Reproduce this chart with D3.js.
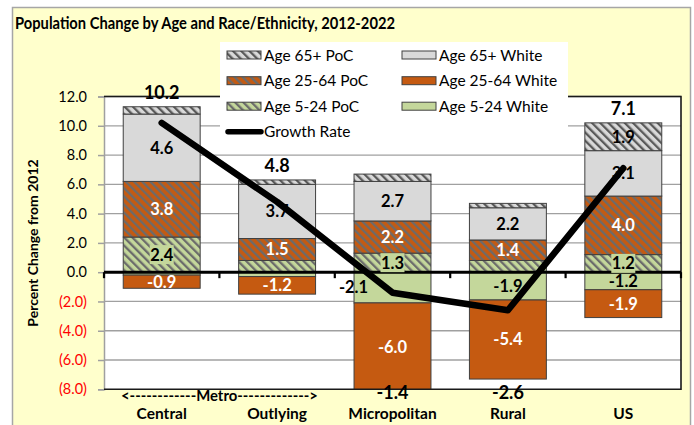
<!DOCTYPE html>
<html><head><meta charset="utf-8">
<script src="https://cdn.jsdelivr.net/npm/d3@7"></script>
<style>html,body{margin:0;padding:0;background:#fff;}svg{display:block;}</style>
</head><body>
<script>
// ---- Data ----
const categories = ["Central", "Outlying", "Micropolitan", "Rural", "US"];
const age5White  = [-0.2, -0.3, -2.1, -1.9, -1.2];
const age5PoC    = [2.4, 0.8, 1.3, 0.8, 1.2];
const age25White = [-0.9, -1.2, -6.0, -5.4, -1.9];
const age25PoC   = [3.8, 1.5, 2.2, 1.4, 4.0];
const age65White = [4.6, 3.7, 2.7, 2.2, 3.1];
const age65PoC   = [0.5, 0.3, 0.5, 0.3, 1.9];
const growthRate = [10.2, 4.8, -1.4, -2.6, 7.1];
const yTicks = [-8, -6, -4, -2, 0, 2, 4, 6, 8, 10, 12];
const seriesKeys = ["Age 5-24 White", "Age 5-24 PoC", "Age 25-64 White", "Age 25-64 PoC", "Age 65+ White", "Age 65+ PoC"];
const seriesValues = [age5White, age5PoC, age25White, age25PoC, age65White, age65PoC];
const title = "Population Change by Age and Race/Ethnicity, 2012-2022";
const yTitle = "Percent Change from 2012";
const metroLabel = "<------------Metro------------->";

// ---- Setup ----
const W = 694, H = 425;
const FONT = "Lato, 'Open Sans', sans-serif";
const svg = d3.select("body").append("svg").attr("width", W).attr("height", H);
svg.append("rect").attr("width", W).attr("height", H).attr("fill", "#fff");
svg.append("rect").attr("x", 12.5).attr("y", 7.5).attr("width", 678).attr("height", 430)
  .attr("fill", "#FFFFCC").attr("stroke", "#A6A6A6").attr("stroke-width", 1.5);

const plot = {x0: 104, x1: 681, y0: 96.5, y1: 389.3};
const x = d3.scaleBand().domain(categories).range([plot.x0, plot.x1]).paddingInner(1/3).paddingOuter(1/6);
const y = d3.scaleLinear().domain([-8, 12]).range([plot.y1, plot.y0]);

const colors = {
  "Age 5-24 White": "#C4D79B", "Age 5-24 PoC": "#C4D79B",
  "Age 25-64 White": "#C55A11", "Age 25-64 PoC": "#C55A11",
  "Age 65+ White": "#D9D9D9", "Age 65+ PoC": "#D9D9D9"
};
const stripe = {"Age 5-24 PoC": "#6b6b6b", "Age 25-64 PoC": "#6b6b6b", "Age 65+ PoC": "#595959"};

const defs = svg.append("defs");
Object.keys(stripe).forEach((k, i) => {
  const p = defs.append("pattern").attr("id", "hatch" + i).attr("patternUnits", "userSpaceOnUse")
    .attr("width", 5.8).attr("height", 5.8).attr("patternTransform", "rotate(-45)");
  p.append("rect").attr("width", 5.8).attr("height", 5.8).attr("fill", colors[k]);
  p.append("rect").attr("x", 0).attr("width", 2.3).attr("height", 5.8).attr("fill", stripe[k]);
});
const fillOf = k => stripe[k] ? "url(#hatch" + Object.keys(stripe).indexOf(k) + ")" : colors[k];

defs.append("clipPath").attr("id", "plotclip").append("rect")
  .attr("x", plot.x0).attr("y", plot.y0).attr("width", plot.x1 - plot.x0).attr("height", plot.y1 - plot.y0);

// plot background
svg.append("rect").attr("x", plot.x0).attr("y", plot.y0).attr("width", plot.x1 - plot.x0)
  .attr("height", plot.y1 - plot.y0).attr("fill", "#fff");

// gridlines
svg.append("g").selectAll("line").data(yTicks.filter(v => v !== 0 && v !== -8)).join("line")
  .attr("x1", plot.x0).attr("x2", plot.x1).attr("y1", d => y(d)).attr("y2", d => y(d))
  .attr("stroke", "#A0A0A0").attr("stroke-width", 1.3);

// stacked bars
const rows = categories.map((c, i) => {
  const r = {cat: c};
  seriesKeys.forEach((k, j) => r[k] = seriesValues[j][i]);
  return r;
});
const stacked = d3.stack().keys(seriesKeys).offset(d3.stackOffsetDiverging)(rows);
const barG = svg.append("g").attr("clip-path", "url(#plotclip)");
stacked.forEach(s => {
  barG.append("g").selectAll("rect").data(s).join("rect")
    .attr("x", d => x(d.data.cat)).attr("width", x.bandwidth())
    .attr("y", d => y(Math.max(d[0], d[1]))).attr("height", d => Math.abs(y(d[0]) - y(d[1])))
    .attr("fill", fillOf(s.key)).attr("stroke", "#404040").attr("stroke-width", 1);
});

// y axis
const yAxis = svg.append("g").attr("transform", `translate(${plot.x0},0)`)
  .call(d3.axisLeft(y).tickValues(yTicks).tickSize(6).tickPadding(11)
    .tickFormat(v => v < 0 ? "(" + Math.abs(v).toFixed(1) + ")" : v.toFixed(1)));
yAxis.select(".domain").attr("stroke", "#A0A0A0").attr("stroke-width", 1.5);
yAxis.selectAll(".tick line").attr("stroke", "#A0A0A0").attr("stroke-width", 1.5);
yAxis.selectAll(".tick text").attr("font-family", FONT).attr("font-size", 14.5)
  .attr("fill", d => d < 0 ? "#FF0000" : "#000");

// plot border (top, right, bottom)
svg.append("path").attr("d", `M${plot.x0},${plot.y0}H${plot.x1}V${plot.y1}H${plot.x0}`)
  .attr("fill", "none").attr("stroke", "#1a1a1a").attr("stroke-width", 1.6);

// zero axis with category boundary ticks
svg.append("line").attr("x1", plot.x0).attr("x2", plot.x1).attr("y1", y(0)).attr("y2", y(0))
  .attr("stroke", "#000").attr("stroke-width", 3);
const bounds = d3.range(categories.length + 1).map(i => plot.x0 + i * x.step());
svg.append("g").selectAll("line").data(bounds).join("line")
  .attr("x1", d => d).attr("x2", d => d).attr("y1", y(0)).attr("y2", y(0) + 6)
  .attr("stroke", "#000").attr("stroke-width", 2.2);

// segment labels
const labG = svg.append("g");
stacked.forEach(s => {
  s.forEach(d => {
    const v = d.data[s.key];
    if (Math.abs(v) < 0.85) return;
    let cx = x(d.data.cat) + x.bandwidth() / 2;
    const cy = y((d[0] + d[1]) / 2);
    if (s.key === "Age 5-24 White" && d.data.cat === "Micropolitan") cx -= 39;
    const white = s.key.startsWith("Age 25-64");
    if (s.key === "Age 5-24 PoC") {
      labG.append("rect").attr("x", cx - 12).attr("y", cy - 9.5).attr("width", 24).attr("height", 19)
        .attr("fill", "#C4D79B");
    }
    labG.append("text").attr("x", cx).attr("y", cy).attr("dy", "0.36em").attr("text-anchor", "middle")
      .attr("font-family", FONT).attr("font-weight", "bold").attr("font-size", 16.5)
      .attr("fill", white ? "#fff" : "#000").text(v.toFixed(1));
  });
});

// growth line
const cx = c => x(c) + x.bandwidth() / 2;
svg.append("path").datum(growthRate)
  .attr("d", d3.line().x((d, i) => cx(categories[i])).y(d => y(d)))
  .attr("fill", "none").attr("stroke", "#000").attr("stroke-width", 6.5)
  .attr("stroke-linejoin", "round").attr("stroke-linecap", "round");

// growth labels
growthRate.forEach((g, i) => {
  const top = d3.max(stacked, s => s[i][1]), bot = d3.min(stacked, s => s[i][0]);
  const ly = g >= 0 ? y(top) - 14 : Math.min(y(bot) + 14, y(-8) + 3);
  svg.append("text").attr("x", cx(categories[i])).attr("y", ly).attr("dy", "0.36em")
    .attr("text-anchor", "middle").attr("font-family", FONT).attr("font-weight", "bold")
    .attr("font-size", 18).attr("fill", "#000").text(g.toFixed(1));
});

// x labels
svg.append("g").selectAll("text").data(categories).join("text")
  .attr("x", d => cx(d)).attr("y", 419).attr("text-anchor", "middle")
  .attr("font-family", FONT).attr("font-weight", "bold").attr("font-size", 15.5).text(d => d);
svg.append("text").attr("x", 121).attr("y", 401).attr("textLength", 197).attr("lengthAdjust", "spacingAndGlyphs")
  .attr("font-family", FONT).attr("font-weight", "bold").attr("font-size", 15).text(metroLabel);

// title
svg.append("text").attr("x", 15).attr("y", 28.5).attr("font-family", FONT).attr("font-weight", "bold")
  .attr("font-size", 17.5).attr("textLength", 380).attr("lengthAdjust", "spacingAndGlyphs").text(title);

// y title
svg.append("text").attr("transform", "translate(33,243) rotate(-90)").attr("text-anchor", "middle")
  .attr("dy", "0.36em").attr("font-family", FONT).attr("font-weight", "bold").attr("font-size", 14)
  .text(yTitle);

// legend
const lg = svg.append("g");
lg.append("rect").attr("x", 220).attr("y", 42).attr("width", 348).attr("height", 105).attr("fill", "#fff");
const legendItems = [
  {k: "Age 65+ PoC", col: 0, row: 0}, {k: "Age 65+ White", col: 1, row: 0},
  {k: "Age 25-64 PoC", col: 0, row: 1}, {k: "Age 25-64 White", col: 1, row: 1},
  {k: "Age 5-24 PoC", col: 0, row: 2}, {k: "Age 5-24 White", col: 1, row: 2}
];
const colX = [227, 402], rowY = [55, 80.7, 106.2, 131.7];
legendItems.forEach(it => {
  lg.append("rect").attr("x", colX[it.col]).attr("y", rowY[it.row] - 4).attr("width", 34).attr("height", 8)
    .attr("fill", fillOf(it.k)).attr("stroke", "#404040").attr("stroke-width", 1);
  lg.append("text").attr("x", colX[it.col] + 37).attr("y", rowY[it.row]).attr("dy", "0.36em")
    .attr("font-family", FONT).attr("font-size", 15.5).text(it.k);
});
lg.append("line").attr("x1", 228).attr("x2", 261).attr("y1", rowY[3]).attr("y2", rowY[3])
  .attr("stroke", "#000").attr("stroke-width", 5.5).attr("stroke-linecap", "round");
lg.append("text").attr("x", 264).attr("y", rowY[3]).attr("dy", "0.36em")
  .attr("font-family", FONT).attr("font-size", 15.5).text("Growth Rate");
</script>
</body></html>
